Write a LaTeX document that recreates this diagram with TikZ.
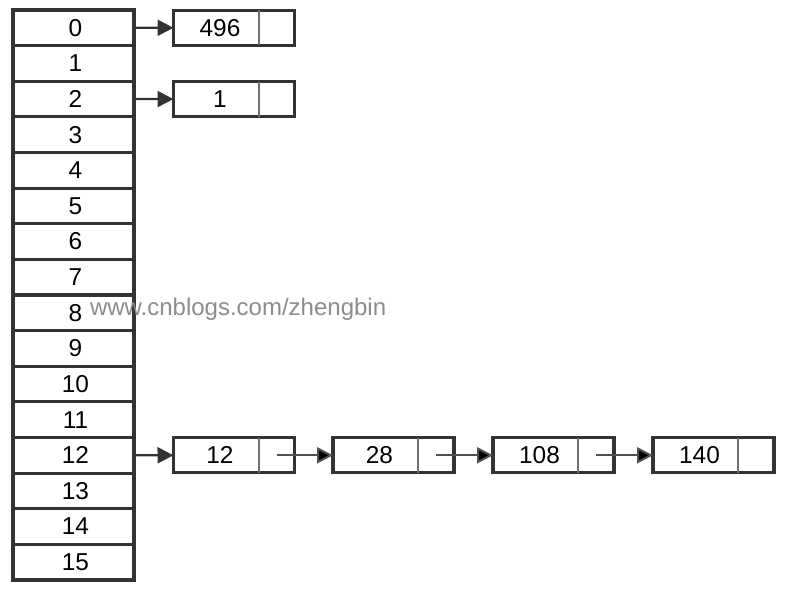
\documentclass[tikz,border=0pt]{standalone}
\usepackage{fontspec}
\setmainfont{Liberation Sans}
\usetikzlibrary{arrows.meta}
\definecolor{boxc}{HTML}{333333}
\definecolor{divc}{HTML}{707070}
\definecolor{arrc}{HTML}{505050}
\definecolor{wmc}{HTML}{8C8C8C}
\tikzset{
  every node/.style={inner sep=0pt, outer sep=0pt, font=\fontsize{18.3}{20}\selectfont},
  slot/.style={draw=boxc, line width=2.4pt, minimum width=90.75pt, minimum height=26.72pt},
  valcell/.style={minimum width=63.75pt, minimum height=26.25pt},
  ptrcell/.style={minimum width=27pt, minimum height=26.25pt},
  boxline/.style={draw=boxc, line width=2.4pt},
  divline/.style={draw=divc, line width=1.5pt},
  headarrow/.style={draw=boxc, line width=1.6pt, -{Triangle[length=12pt, width=12pt]}},
  chainarrow/.style={draw=arrc, line width=1.5pt, -{Triangle[length=12pt, width=12pt, fill=black]}},
}
\newcommand{\elem}[4]{% name, x of left edge, y center, text
  \node[valcell] (v#1) at ({#2+42.5}, #3) {\hspace*{6pt}#4};
  \node[ptrcell] (p#1) at ({#2+85+18}, #3) {};
  \draw[boxline] (v#1.north west) rectangle (p#1.south east);
  \draw[divline] (p#1.north west) -- (p#1.south west);
}
\begin{document}
\begin{tikzpicture}[x=0.75pt, y=-0.75pt]
\useasboundingbox (0,0) rectangle (790,602);
% array slots
\foreach \i in {0,...,15} {
  \node[slot] (r\i) at (73.5, {10+35.625*(\i+0.5)}) {\hspace*{3pt}\i};
}
% list elements
\elem{a}{173.5}{27.81}{496}
\elem{b}{173.5}{99.06}{1}
\elem{c}{173.5}{455.3}{12}
\elem{d}{333}{455.3}{28}
\elem{e}{493}{455.3}{108}
\elem{f}{653}{455.3}{140}
% arrows
\draw[headarrow] (r0.east) -- (va.west);
\draw[headarrow] (r2.east) -- (vb.west);
\draw[headarrow] (r12.east) -- (vc.west);
\draw[chainarrow] (pc.center) -- (vd.west);
\draw[chainarrow] (pd.center) -- (ve.west);
\draw[chainarrow] (pe.center) -- (vf.west);
% watermark
\node[anchor=base west, text=wmc, font=\fontsize{18}{20}\selectfont] (wm) at (90,316) {www.cnblogs.com/zhengbin};
\end{tikzpicture}
\end{document}
